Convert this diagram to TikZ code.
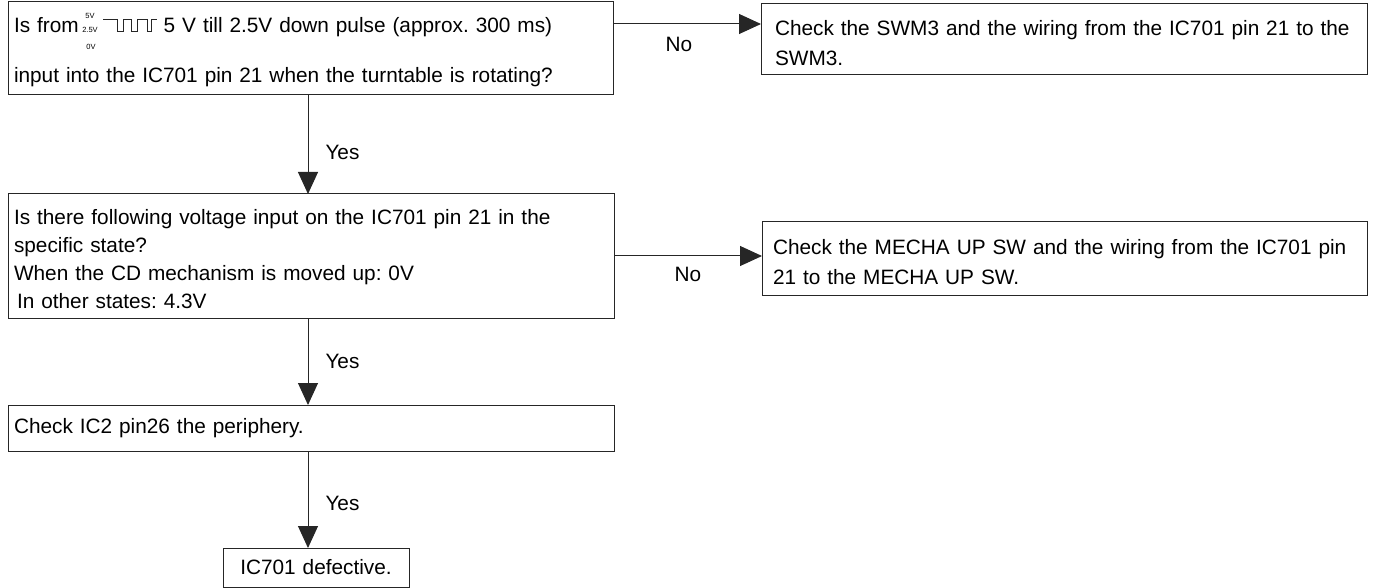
\documentclass[tikz,border=0pt]{standalone}
\usepackage{fontspec}
\setmainfont{Liberation Sans}
\usetikzlibrary{arrows.meta}
\frenchspacing

\begin{document}
\begin{tikzpicture}[
	x=1pt, y=-1pt,
	b/.style = {rectangle, draw=black!85, line width=1pt, anchor=north west, align=left, inner ysep=0pt, outer sep=0pt, font=\fontsize{20.8}{30}\selectfont},
	m/.style = {b, execute at begin node={\rule{0pt}{21.5pt}}},
	l/.style = {font=\fontsize{20.8}{26}\selectfont, inner sep=0pt},
	v/.style = {font=\fontsize{7.5}{8}\selectfont, inner sep=0pt},
	r/.style = {-{Triangle[length=22pt, width=20pt]}, line width=1pt, draw=black!85}
	]
	
	\useasboundingbox (0, 0) rectangle (1374, 588);
	
	% ===== ===== ===== ===== =====
	
	% Nodes
	\node[m, text width=593pt, minimum height=93pt, inner xsep=6pt]	(q1)	at	(8, 2)	{Is from\hspace{85pt}5 V till 2.5V down pulse (approx. 300 ms)\\[20pt]input into the IC701 pin 21 when the turntable is rotating?};
	\node[m, text width=578pt, minimum height=71pt, inner xsep=14pt]	(n1)	at	(761, 4)	{Check the SWM3 and the wiring from the IC701 pin 21 to the\\SWM3.};
	
	% Pulse
	\draw[line width=0.8pt, black!85] (103, 19) -- (117, 19) -- (117, 31) -- (123, 31) -- (123, 19) -- (131, 19) -- (131, 31) -- (137, 31) -- (137, 19) -- (147, 19) -- (147, 31) -- (151, 31) -- (151, 19) -- (157, 19);
	\node[v]	(w5)	at	(90, 16)	{5V};
	\node[v]	(w25)	at	(90, 30)	{2.5V};
	\node[v]	(w0)	at	(91, 47)	{0V};
	
	% ===== ===== ===== ===== =====
	
	% Nodes
	\node[m, text width=594pt, minimum height=124pt, inner xsep=6pt, font=\fontsize{20.8}{28}\selectfont]	(q2)	at	(8, 194)	{Is there following voltage input on the IC701 pin 21 in the\\specific state?\\When the CD mechanism is moved up: 0V\\\hspace*{3pt}In other states: 4.3V};
	\node[m, text width=583pt, minimum height=73pt, inner xsep=11pt]	(n2)	at	(762, 222)	{Check the MECHA UP SW and the wiring from the IC701 pin\\21 to the MECHA UP SW.};
	
	% ===== ===== ===== ===== =====
	
	% Nodes
	\node[b, text width=594pt, minimum height=46pt, inner xsep=6pt]	(c3)	at	(8, 405)	{Check IC2 pin26 the periphery.};
	\node[b, text width=156pt, minimum height=39pt, inner xsep=15pt, align=center]	(d4)	at	(223, 548)	{IC701 defective.};
	
	% ===== ===== ===== ===== =====
	
	% Lines
	\coordinate (ax) at (308, 0);
	\coordinate (ay) at (0, 24);
	
	\draw[r]	(q1.east |- ay)	--	node[l, xshift=-8pt, yshift=-20pt] (no1) {No}	(n1.west |- ay);
	\draw[r]	(q2.east)	--	node[l, yshift=-18pt] (no2) {No}	(q2.east -| n2.west);
	
	\draw[r]	(q1.south -| ax)	--	node[l, pos=0.58, right=17pt] (yes1) {Yes}	(q2.north -| ax);
	\draw[r]	(q2.south -| ax)	--	node[l, pos=0.5, right=17pt] (yes2) {Yes}	(c3.north -| ax);
	\draw[r]	(c3.south -| ax)	--	node[l, pos=0.54, right=17pt] (yes3) {Yes}	(d4.north -| ax);
	
\end{tikzpicture}
\end{document}
